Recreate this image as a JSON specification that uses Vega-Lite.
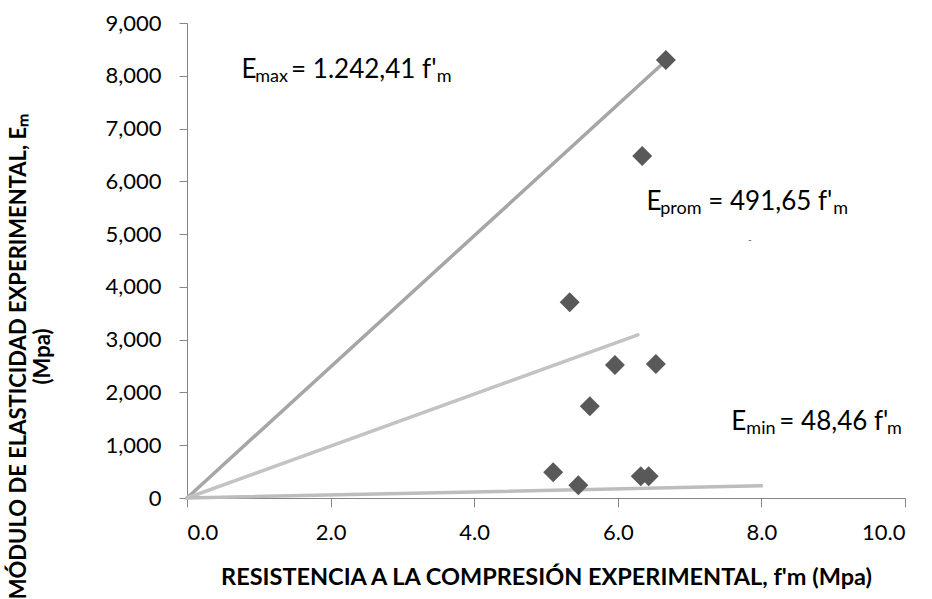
{
  "$schema": "https://vega.github.io/schema/vega-lite/v6.json",
  "width": 718,
  "height": 475,
  "autosize": {"type": "none"},
  "padding": {"left": 187, "top": 23, "right": 27, "bottom": 101},
  "background": "white",
  "config": {
    "view": {"stroke": null},
    "font": "Lato",
    "axis": {"grid": false, "domainColor": "#868686", "tickColor": "#868686", "labelColor": "#000000", "titleColor": "#000000", "labelFont": "Lato", "titleFont": "Lato", "labelFontSize": 22, "titleFontSize": 22, "titleFontWeight": "bold", "labelFontWeight": "normal"}
  },
  "datasets": {
    "pts": [
      {"fm": 6.67, "Em": 8300},
      {"fm": 6.34, "Em": 6480},
      {"fm": 5.33, "Em": 3710},
      {"fm": 5.96, "Em": 2520},
      {"fm": 6.53, "Em": 2540},
      {"fm": 5.61, "Em": 1740},
      {"fm": 5.10, "Em": 490},
      {"fm": 5.45, "Em": 240},
      {"fm": 6.32, "Em": 410},
      {"fm": 6.43, "Em": 410}
    ],
    "fits": [
      {"serie": "Emax", "fm": 0, "Em": 0},
      {"serie": "Emax", "fm": 6.6, "Em": 8200},
      {"serie": "Eprom", "fm": 0, "Em": 0},
      {"serie": "Eprom", "fm": 6.28, "Em": 3090},
      {"serie": "Emin", "fm": 0, "Em": 0},
      {"serie": "Emin", "fm": 8.0, "Em": 230}
    ],
    "notes": [
      {"role": "main", "fm": 0.76, "Em": 7960, "txt": "E"},
      {"role": "sub", "fm": 0.95, "Em": 7960, "txt": "max"},
      {"role": "main", "fm": 1.45, "Em": 7960, "txt": "= 1.242,41 f'"},
      {"role": "sub", "fm": 3.48, "Em": 7960, "txt": "m"},
      {"role": "main", "fm": 6.40, "Em": 5457, "txt": "E"},
      {"role": "sub", "fm": 6.59, "Em": 5457, "txt": "prom"},
      {"role": "main", "fm": 7.26, "Em": 5457, "txt": "= 491,65 f'"},
      {"role": "sub", "fm": 9.00, "Em": 5457, "txt": "m"},
      {"role": "main", "fm": 7.58, "Em": 1288, "txt": "E"},
      {"role": "sub", "fm": 7.79, "Em": 1288, "txt": "min"},
      {"role": "main", "fm": 8.25, "Em": 1288, "txt": "= 48,46 f'"},
      {"role": "sub", "fm": 9.75, "Em": 1288, "txt": "m"},
      {"role": "dot", "fm": 7.84, "Em": 4890, "txt": "-"}
    ]
  },
  "layer": [
    {
      "data": {"name": "fits"},
      "mark": {"type": "line", "strokeWidth": 3.5, "strokeCap": "round"},
      "encoding": {
        "x": {"field": "fm", "type": "quantitative", "scale": {"domain": [0, 10]},
          "axis": {"values": [0, 2, 4, 6, 8, 10], "format": ".1f", "tickSize": 9, "labelPadding": 15,
            "title": "RESISTENCIA A LA COMPRESIÓN EXPERIMENTAL, f'm (Mpa)", "titleFontSize": 23.5, "titleY": 79, "titleBaseline": "middle"}},
        "y": {"field": "Em", "type": "quantitative", "scale": {"domain": [0, 9000]},
          "axis": {"values": [0, 1000, 2000, 3000, 4000, 5000, 6000, 7000, 8000, 9000], "format": ",.0f", "tickSize": 8, "labelPadding": 18,
            "title": ["MÓDULO DE ELASTICIDAD EXPERIMENTAL, Eₘ", "(Mpa)"], "titleX": -169, "titleY": 333, "titleAlign": "center", "titleBaseline": "middle", "titleLineHeight": 24}},
        "color": {"field": "serie", "type": "nominal", "scale": {"domain": ["Emax", "Eprom", "Emin"], "range": ["#a6a6a6", "#c3c3c3", "#bdbdbd"]}, "legend": null},
        "detail": {"field": "serie"}
      }
    },
    {
      "data": {"name": "pts"},
      "mark": {"type": "point", "shape": "diamond", "filled": true, "size": 400, "color": "#595959", "opacity": 1},
      "encoding": {
        "x": {"field": "fm", "type": "quantitative"},
        "y": {"field": "Em", "type": "quantitative"}
      }
    },
    {
      "data": {"name": "notes"},
      "transform": [{"filter": "datum.role === 'main'"}],
      "mark": {"type": "text", "align": "left", "baseline": "alphabetic", "fontSize": 26, "font": "Lato", "color": "#000000"},
      "encoding": {
        "x": {"field": "fm", "type": "quantitative"},
        "y": {"field": "Em", "type": "quantitative"},
        "text": {"field": "txt"}
      }
    },
    {
      "data": {"name": "notes"},
      "transform": [{"filter": "datum.role === 'sub'"}],
      "mark": {"type": "text", "align": "left", "baseline": "alphabetic", "fontSize": 18, "dy": 4, "font": "Lato", "color": "#000000"},
      "encoding": {
        "x": {"field": "fm", "type": "quantitative"},
        "y": {"field": "Em", "type": "quantitative"},
        "text": {"field": "txt"}
      }
    },
    {
      "data": {"name": "notes"},
      "transform": [{"filter": "datum.role === 'dot'"}],
      "mark": {"type": "text", "align": "center", "baseline": "middle", "fontSize": 10, "font": "Lato", "color": "#555555"},
      "encoding": {
        "x": {"field": "fm", "type": "quantitative"},
        "y": {"field": "Em", "type": "quantitative"},
        "text": {"field": "txt"}
      }
    }
  ]
}
